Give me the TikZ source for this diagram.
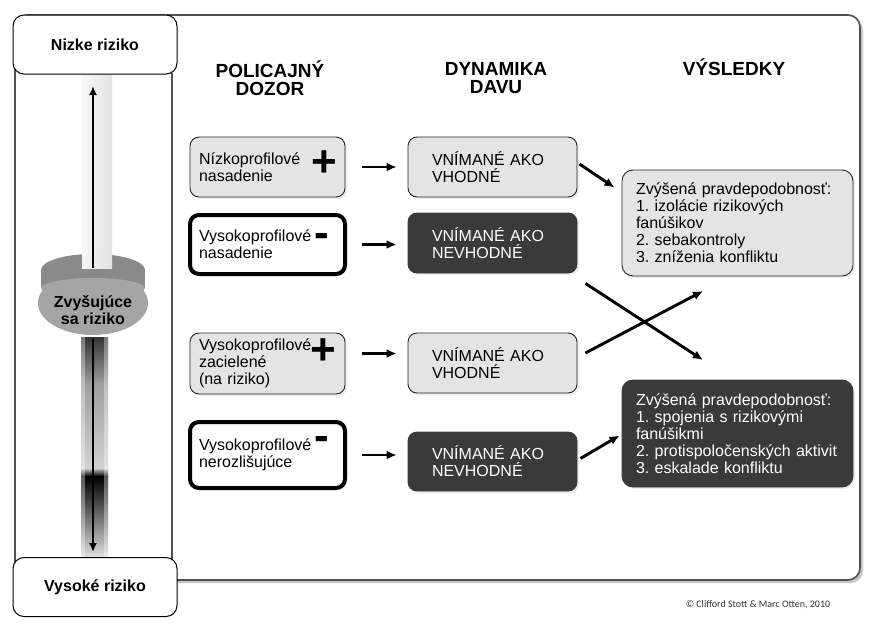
\documentclass[tikz,border=0pt]{standalone}
\usepackage{fontspec}
\setmainfont{Liberation Sans}
\newfontfamily\calib{Carlito}
\usetikzlibrary{arrows.meta,calc,shadows}
\definecolor{darkbox}{RGB}{58,58,58}
\definecolor{lightbox}{RGB}{228,228,228}
\definecolor{framegray}{RGB}{80,80,80}
\definecolor{cyltop}{RGB}{138,138,138}
\definecolor{cylbody}{RGB}{165,165,165}
\tikzset{
  txt/.style={font=\fontsize{16}{17}\selectfont},
  hdr/.style={font=\fontsize{19}{18}\selectfont\bfseries, align=center, inner sep=0pt},
  pbox/.style={rectangle, rounded corners=9pt, draw=black!85, line width=0.9pt, minimum width=155pt, inner xsep=9pt, text width=137pt, align=left, txt, drop shadow={opacity=0.15, shadow xshift=2pt, shadow yshift=-2pt}},
  thickbox/.style={pbox, fill=white, line width=4pt, draw=black},
  litebox/.style={pbox, fill=lightbox},
  dbox/.style={rectangle, rounded corners=9pt, draw=black!85, line width=0.9pt, minimum width=169pt, minimum height=60pt, inner xsep=24pt, text width=121pt, align=left, txt, drop shadow={opacity=0.15, shadow xshift=2pt, shadow yshift=-2pt}},
  dlite/.style={dbox, fill=lightbox},
  ddark/.style={dbox, fill=darkbox, text=white, draw=darkbox},
  rbox/.style={rectangle, rounded corners=11pt, draw=black!85, line width=0.9pt, minimum width=231pt, inner xsep=14pt, text width=203pt, align=left, txt, drop shadow={opacity=0.15, shadow xshift=2pt, shadow yshift=-2pt}},
  riskbox/.style={rectangle, rounded corners=11pt, draw=black, line width=1pt, fill=white, minimum width=164pt, minimum height=59pt, font=\fontsize{16}{17}\selectfont\bfseries},
  arr/.style={line width=2.9pt, -{Latex[length=10pt,width=9pt]}},
  sarr/.style={line width=2.2pt, -{Latex[length=9pt,width=8pt]}},
  plussign/.style={font=\fontsize{44}{44}\selectfont\bfseries, inner sep=0pt, anchor=base},
  minussign/.style={font=\fontsize{44}{44}\selectfont\bfseries, inner sep=0pt, anchor=base}
}
\begin{document}
\frenchspacing
\begin{tikzpicture}[x=1pt,y=-1pt]
\useasboundingbox (0,0) rectangle (875,630);
% outer frame
\fill[gray!45] (18,18) [rounded corners=12pt] rectangle (863,583);
\draw[framegray, line width=1.6pt, fill=white, rounded corners=12pt] (15,15) rectangle (860,580);
% left column divider
\draw[framegray, line width=1.6pt] (172,73) -- (172,560);
% upper bar
\shade[left color=gray!6, right color=gray!22] (82,73) rectangle (112,268);
% cylinder
\fill[cylbody] (93,303) ellipse [x radius=55pt, y radius=32pt];
\fill[cyltop] (93,270) ellipse [x radius=52pt, y radius=16pt];
\fill[cyltop] (41,270) rectangle (145,288);
\fill[cylbody] (93,288) ellipse [x radius=52pt, y radius=10pt];
\shade[left color=gray!8, right color=gray!22] (82,254) rectangle (112,268);
% lower bar (stacked shadings)
\shade[top color=black!80, bottom color=gray!75] (81,337) rectangle (108,385);
\shade[top color=gray!75, bottom color=gray!35] (81,385) rectangle (108,468);
\shade[top color=gray!35, bottom color=black] (81,468) rectangle (108,476);
\shade[top color=black, bottom color=black!75] (81,476) rectangle (108,500);
\shade[top color=black!75, bottom color=gray!25] (81,500) rectangle (108,557);
\fill[white, opacity=0.35] (81,337) rectangle (85,557);
\fill[white, opacity=0.35] (104,337) rectangle (108,557);
% risk nodes
\node[riskbox] (low) at (95,44.5) {Nizke riziko};
\node[riskbox] (high) at (95,587) {Vysoké riziko};
\node[font=\fontsize{16}{16.5}\selectfont\bfseries, align=center, inner sep=0pt] (cyl) at (93,310) {Zvyšujúce\\sa riziko};
\coordinate (upstart) at (93,268);
\coordinate (upend) at (93,86);
\coordinate (downstart) at (93,339);
\coordinate (downend) at (93,552);
\draw[sarr] (upstart) -- (upend);
\draw[sarr] (downstart) -- (downend);
% headers
\node[hdr] (h1) at (270,78) {POLICAJNÝ\\DOZOR};
\node[hdr] (h2) at (496,78) {DYNAMIKA\\DAVU};
\node[hdr, anchor=base] (h3) at (734,75) {VÝSLEDKY};
% policing boxes
\node[litebox, minimum height=60pt] (b1) at (267.5,167) {Nízkoprofilové\\nasadenie};
\node[thickbox, minimum height=59pt] (b2) at (267.5,244.5) {Vysokoprofilové\\nasadenie};
\node[litebox, minimum height=61pt] (b3) at (267.5,363.5) {Vysokoprofilové\\zacielené\\(na riziko)};
\node[thickbox, minimum height=66pt] (b4) at (267.5,455) {Vysokoprofilové\\nerozlišujúce};
\node[plussign] (p1) at (324,176) {+};
\node[minussign] (m1) at (322,247.5) {-};
\node[plussign] (p2) at (323,364) {+};
\node[minussign] (m2) at (322,450) {-};
% crowd dynamics boxes
\node[dlite] (v1) at (492.5,167) {VNÍMANÉ AKO\\VHODNÉ};
\node[ddark] (n1) at (492.5,243) {VNÍMANÉ AKO\\NEVHODNÉ};
\node[dlite] (v2) at (492.5,363) {VNÍMANÉ AKO\\VHODNÉ};
\node[ddark, minimum height=59pt] (n2) at (492.5,461.5) {VNÍMANÉ AKO\\NEVHODNÉ};
% outcome boxes
\node[rbox, fill=lightbox, minimum height=106pt] (r1) at (737.5,223) {Zvýšená pravdepodobnosť:\\1. izolácie rizikových\\fanúšikov\\2. sebakontroly\\3. zníženia konfliktu};
\node[rbox, fill=darkbox, draw=darkbox, text=white, minimum height=107pt] (r2) at (737.5,433.5) {Zvýšená pravdepodobnosť:\\1. spojenia s rizikovými\\fanúšikmi\\\mbox{2. protispoločenských aktivit}\\3. eskalade konfliktu};
% arrows
\draw[arr, shorten <=17pt, shorten >=11pt] (b1.east) -- (b1.east -| v1.west);
\draw[arr, shorten <=15pt, shorten >=11pt] (b2.east) -- (b2.east -| n1.west);
\draw[arr, shorten <=17pt, shorten >=11pt] ([yshift=10pt]b3.east) -- ([yshift=10pt]b3.east -| v2.west);
\draw[arr, shorten <=15pt, shorten >=11pt] (b4.east) -- (b4.east -| n2.west);
\coordinate (x1) at (703,360);
\coordinate (x2) at (703,291);
\draw[arr] ([xshift=2pt,yshift=3pt]v1.east) -- ([xshift=-7pt,yshift=-18pt]r1.north west);
\draw[arr] ([xshift=8pt,yshift=-10pt]n1.south east) -- (x1);
\draw[arr] ([xshift=8pt,yshift=10pt]v2.east) -- (x2);
\draw[arr] ([xshift=3pt,yshift=3pt]n2.east) -- ([xshift=-2pt,yshift=-2pt]r2.west);
% copyright
\node[font=\calib\fontsize{10}{10}\selectfont, text=black!80, anchor=base] (copy) at (758,607) {© Clifford Stott \& Marc Otten, 2010};
\end{tikzpicture}
\end{document}
